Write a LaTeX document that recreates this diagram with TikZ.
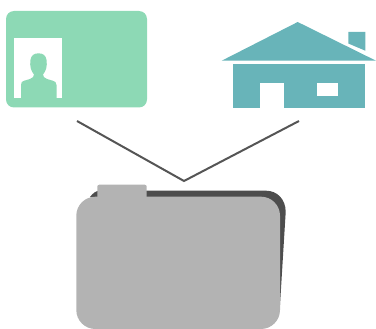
\documentclass[tikz,border=0pt]{standalone}
\definecolor{cardgreen}{HTML}{8DD9B5}
\definecolor{houseteal}{HTML}{68B4B9}
\definecolor{foldlight}{HTML}{B3B3B3}
\definecolor{folddark}{HTML}{4D4D4D}
\definecolor{linkgrey}{HTML}{555555}
\tikzset{
  linkline/.style={draw=linkgrey,line width=2pt,line join=miter},
  teal/.style={fill=houseteal},
  hole/.style={fill=white},
}
\begin{document}
\begin{tikzpicture}[x=1pt,y=-1pt]
\useasboundingbox (0,0) rectangle (376,329);
% card
\fill[cardgreen,rounded corners=8pt] (6,11) rectangle (147,107.5);
\fill[hole] (14,38.5) rectangle (62,98);
\fill[cardgreen] (21,98) -- (21,85) .. controls (21,82) and (22,81.5) .. (24,80.8)
  -- (30,79) .. controls (33,78) and (34,76.5) .. (34,74.5)
  .. controls (31,71) and (29.5,66) .. (30.5,60)
  .. controls (31,55.5) and (34,53.3) .. (38.5,53.3)
  .. controls (43,53.3) and (46,55.5) .. (46.5,60)
  .. controls (47.5,66) and (46,71) .. (43,74.5)
  .. controls (43,76.5) and (44,78) .. (47,79)
  -- (53,80.8) .. controls (55,81.5) and (56.5,82) .. (56.5,85) -- (56.5,98) -- cycle;
% house
\fill[teal] (348.3,32) -- (365.3,32) -- (365.3,50.7) -- (348.3,43.5) -- cycle;
\fill[teal] (297.7,22) -- (376,60.7) -- (221.7,60.7) -- cycle;
\fill[teal] (233,64.3) rectangle (365.3,107.7);
\fill[hole] (260.3,83) rectangle (284,108);
\fill[hole] (317,83) rectangle (338,96);
% folder
\fill[folddark] (90,197) .. controls (93,193) and (96,190.7) .. (100,190.7) -- (266,190.7)
  .. controls (277,190.7) and (285.7,199) .. (285.7,212) -- (280,305) -- (200,250) -- cycle;
\fill[foldlight,rounded corners=19pt] (76.3,196.7) rectangle (280,329);
\fill[foldlight,rounded corners=2pt] (97.3,184.7) rectangle (146.7,205);
% links
\coordinate (cardlink) at (77,121);
\coordinate (joint) at (184,181);
\coordinate (houselink) at (299,121);
\draw[linkline] (cardlink) -- (joint) -- (houselink);
\end{tikzpicture}
\end{document}
